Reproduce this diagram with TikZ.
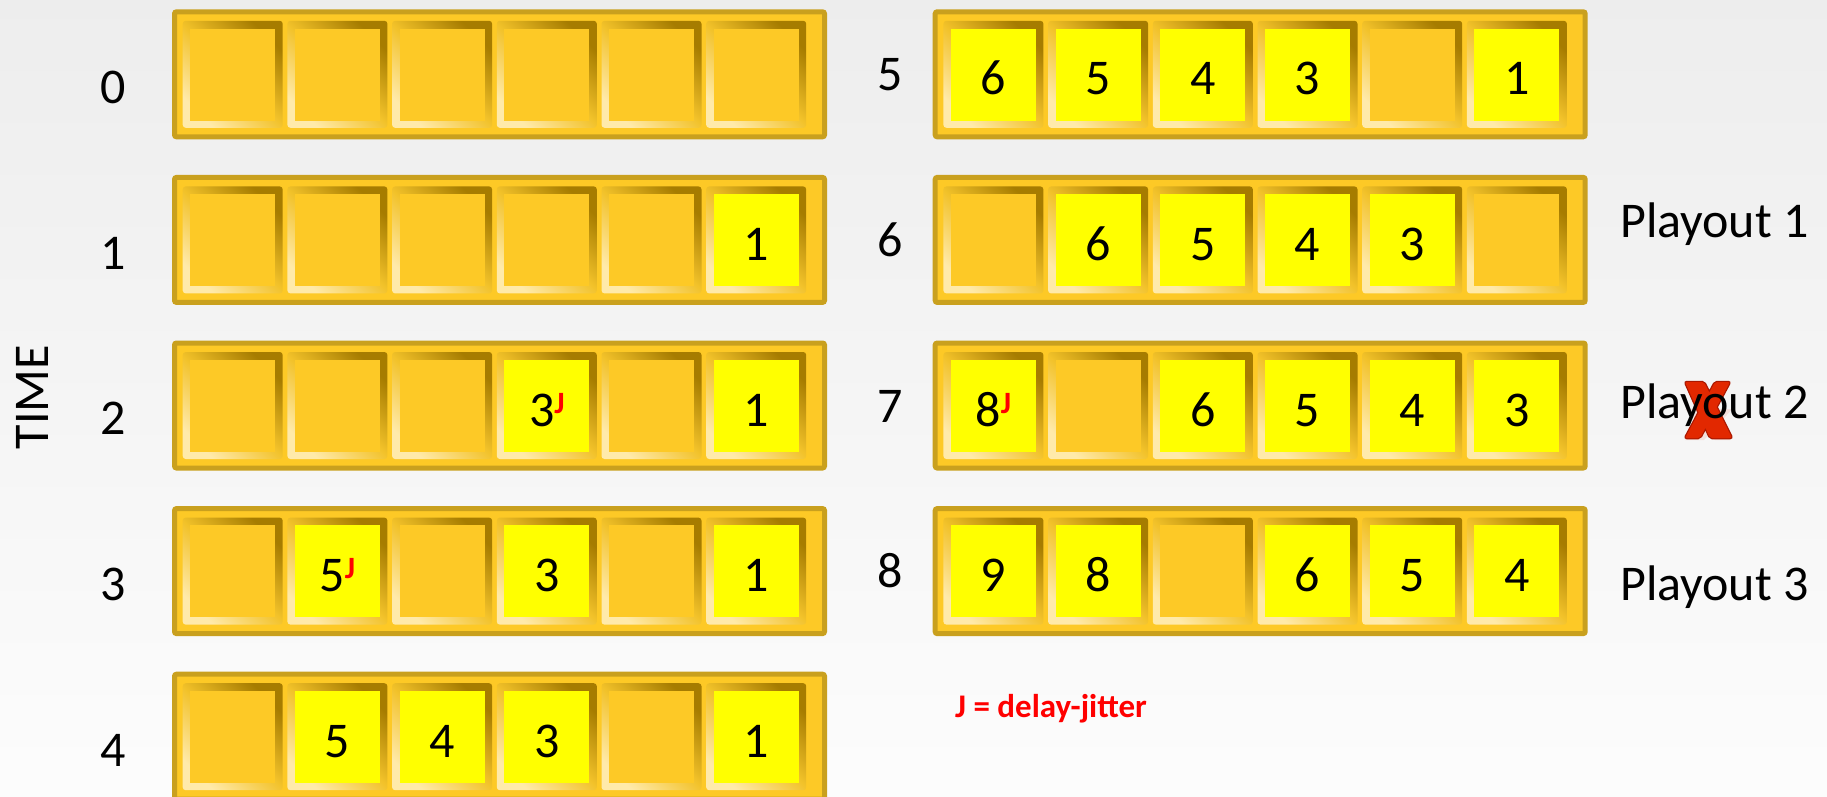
\documentclass[tikz,border=0pt]{standalone}
\usepackage{fontspec}
\setmainfont{Carlito}

\definecolor{bufgold}{RGB}{253,201,38}
\definecolor{bufedge}{RGB}{201,160,30}
\definecolor{slotdark}{RGB}{166,124,0}
\definecolor{slotmid}{RGB}{242,194,42}
\definecolor{slotlight}{RGB}{255,234,170}
\definecolor{pkt}{RGB}{255,255,0}
\definecolor{xred}{RGB}{226,40,0}
\definecolor{xedge}{RGB}{170,24,0}

% red jitter mark
\newcommand{\jit}{\raisebox{13pt}{\fontsize{31}{31}\selectfont\bfseries\color{red}J}}

% one slot: name, x, y, packet
\newcommand{\pslot}[4]{%
  \shade[slotframe] (#2,#3) rectangle ++(100,107);
  \if\relax\detokenize{#4}\relax
    \fill[bufgold] (#2+7.5,#3+7.7) rectangle ++(85,92);
  \else
    \fill[pkt] (#2+7.5,#3+7.7) rectangle ++(85,92);
    \node[num] (#1) at (#2+50,#3+74) {#4};
  \fi}

% one buffer: name, x, y, six slots
\newcommand{\pbuf}[9]{%
  \draw[bufframe] (#2+2.5,#3+2.5) rectangle ++(650,125);
  \pslot{#1a}{#2+10.7}{#3+11.5}{#4}
  \pslot{#1b}{#2+115.4}{#3+11.5}{#5}
  \pslot{#1c}{#2+220.1}{#3+11.5}{#6}
  \pslot{#1d}{#2+324.8}{#3+11.5}{#7}
  \pslot{#1e}{#2+429.5}{#3+11.5}{#8}
  \pslot{#1f}{#2+534.2}{#3+11.5}{#9}}

\begin{document}
\begin{tikzpicture}[x=1pt,y=-1pt,
  bufframe/.style={draw=bufedge,line width=5pt,fill=bufgold,rounded corners=2pt},
  slotframe/.style={rounded corners=3pt,top color=slotdark,bottom color=slotlight,
    middle color=slotmid,shading angle=-45},
  num/.style={font=\fontsize{50}{60}\selectfont,anchor=base,inner sep=0pt},
  lbl/.style={font=\fontsize{50}{60}\selectfont,anchor=base,inner sep=0pt}]
  % background
  \clip (0,0) rectangle (1827,796);
  \shade[top color=black!7,bottom color=black!1] (0,0) rectangle (1827,796);
  % axis
  \node[lbl,anchor=center,rotate=90] (time) at (32.5,397) {TIME};
  % time 0
  \node[lbl] (l0) at (113,103) {0};
  \pbuf{t0}{172}{9.3}{}{}{}{}{}{}
  % time 1
  \node[lbl] (l1) at (113,269) {1};
  \pbuf{t1}{172}{174.9}{}{}{}{}{}{1}
  % time 2
  \node[lbl] (l2) at (113,434) {2};
  \pbuf{t2}{172}{340.5}{}{}{}{3\jit}{}{1}
  % time 3
  \node[lbl] (l3) at (113,600) {3};
  \pbuf{t3}{172}{506.1}{}{5\jit}{}{3}{}{1}
  % time 4
  \node[lbl] (l4) at (113,766) {4};
  \pbuf{t4}{172}{671.7}{}{5}{4}{3}{}{1}
  % time 5
  \node[lbl] (l5) at (890,90) {5};
  \pbuf{t5}{932.7}{9.3}{6}{5}{4}{3}{}{1}
  % time 6
  \node[lbl] (l6) at (890,256) {6};
  \pbuf{t6}{932.7}{174.9}{}{6}{5}{4}{3}{}
  % time 7
  \node[lbl] (l7) at (890,422) {7};
  \pbuf{t7}{932.7}{340.5}{8\jit}{}{6}{5}{4}{3}
  % time 8
  \node[lbl] (l8) at (890,587) {8};
  \pbuf{t8}{932.7}{506.1}{9}{8}{}{6}{5}{4}
  % red cross on playout 2
  \begin{scope}[shift={(1685,382)}]
    \draw[xedge,line width=2.5pt,rounded corners=2pt,fill=xred]
      (0,0) -- (19,0) -- (47,56) -- (25,56) -- cycle
      (30,0) -- (45,0) -- (15,56) -- (0,56) -- cycle;
    \fill[xred,rounded corners=2pt]
      (0,0) -- (19,0) -- (47,56) -- (25,56) -- cycle
      (30,0) -- (45,0) -- (15,56) -- (0,56) -- cycle;
  \end{scope}
  \begin{scope}[shift={(1685,440)},yscale=-0.55,opacity=0.1]
    \fill[xred] (0,0) -- (19,0) -- (47,56) -- (25,56) -- cycle
      (30,0) -- (45,0) -- (15,56) -- (0,56) -- cycle;
  \end{scope}
  % playouts
  \node[lbl,anchor=base west] (p1) at (1620,237) {Playout 1};
  \node[lbl,anchor=base west] (p2) at (1620,418) {Playout 2};
  \node[lbl,anchor=base west] (p3) at (1620,600) {Playout 3};
  % legend
  \node[anchor=base,inner sep=0pt,text=red,font=\fontsize{33}{40}\selectfont\bfseries]
    (key) at (1051,717) {J = delay-jitter};
\end{tikzpicture}
\end{document}
